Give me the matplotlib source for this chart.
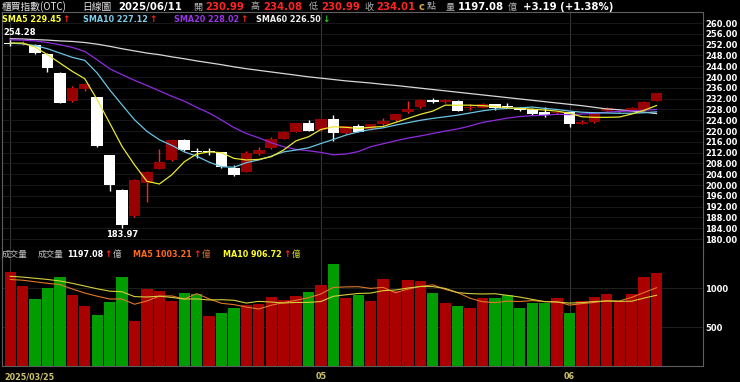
import numpy as np
import matplotlib
matplotlib.use('Agg')
import matplotlib.pyplot as plt

# --- data (OTC index, daily, 2025/03/25 - 2025/06/11) ---
opens = [252.3, 252.3, 251.8, 248.6, 241.5, 231.1, 235.6, 232.5, 211.0, 198.3,
         188.4, 200.8, 206.1, 209.2, 216.6, 212.6, 212.6, 212.1, 206.2, 205.0,
         211.5, 213.6, 217.2, 219.8, 222.9, 220.4, 224.4, 219.2, 221.9, 220.7,
         222.6, 224.1, 227.0, 228.8, 231.6, 230.7, 231.2, 228.4, 228.7, 229.9,
         229.3, 228.7, 228.2, 227.2, 226.8, 227.0, 222.8, 223.2, 227.5, 226.9,
         227.5, 227.8, 230.99]
highs = [254.28, 253.3, 252.1, 248.8, 241.7, 236.8, 237.8, 232.7, 211.2, 198.5,
         202.3, 205.3, 213.5, 216.8, 217.2, 213.6, 213.6, 212.3, 207.6, 212.8,
         214.0, 217.9, 219.9, 223.1, 224.0, 224.6, 226.0, 221.9, 222.7, 222.8,
         224.8, 226.5, 231.0, 231.7, 232.2, 231.9, 231.4, 230.0, 230.4, 230.1,
         230.3, 228.9, 228.4, 229.1, 227.6, 227.2, 224.2, 226.8, 229.0, 227.8,
         229.1, 231.1, 234.08]
lows = [251.4, 252.0, 248.6, 242.0, 230.3, 230.9, 234.8, 214.2, 197.7, 183.97,
        188.2, 193.8, 205.9, 209.0, 212.8, 209.9, 211.3, 206.4, 203.5, 204.8,
        211.3, 213.4, 217.0, 219.6, 220.0, 220.2, 216.5, 218.8, 219.6, 220.5,
        222.4, 223.9, 226.8, 228.6, 230.5, 230.5, 227.3, 227.8, 228.5, 227.8,
        228.4, 227.6, 226.0, 225.4, 226.5, 221.4, 222.6, 223.0, 227.3, 226.7,
        227.3, 227.6, 230.99]
closes = [252.3, 252.8, 248.9, 243.3, 230.5, 236.0, 237.5, 214.6, 200.1, 185.1,
          202.0, 204.8, 208.5, 216.6, 213.0, 212.4, 212.6, 206.6, 203.7, 211.8,
          213.0, 217.0, 219.7, 222.9, 220.2, 224.4, 219.2, 221.7, 219.8, 222.6,
          223.9, 226.3, 228.2, 231.5, 230.7, 231.4, 227.5, 229.0, 230.2, 228.7,
          228.9, 227.8, 226.4, 226.0, 227.2, 222.5, 223.4, 226.6, 228.4, 227.5,
          228.5, 230.9, 234.01]

sma5 = [252.6, 252.6, 251.1, 248.3, 245.2, 242.1, 239.4, 231.6, 223.0, 214.3,
        207.5, 201.4, 200.4, 203.8, 208.6, 211.5, 212.3, 212.0, 209.9, 209.3,
        209.5, 210.5, 213.0, 216.4, 217.9, 220.6, 221.6, 221.4, 221.0, 221.4,
        221.7, 223.2, 224.7, 226.2, 227.4, 229.6, 229.6, 229.6, 229.4, 229.1,
        228.6, 228.4, 228.1, 227.8, 227.4, 226.6, 225.3, 225.1, 225.1, 225.2,
        226.3, 227.7, 229.45]
sma10 = [252.6, 252.3, 251.7, 250.5, 248.9, 247.3, 246.2, 241.5, 235.3, 229.7,
         224.2, 219.9, 216.8, 214.7, 212.3, 210.7, 208.5, 206.8, 206.6, 208.3,
         209.3, 210.7, 212.3, 213.0, 213.8, 215.4, 216.9, 218.5, 219.7, 220.6,
         221.2, 222.2, 223.1, 224.0, 224.7, 225.3, 225.9, 226.7, 227.5, 228.1,
         228.4, 228.6, 228.9, 228.4, 228.0, 227.4, 227.0, 226.8, 226.7, 226.6,
         226.6, 226.8, 227.12]
sma20 = [253.8, 253.7, 253.4, 252.8, 252.0, 251.0, 249.5, 246.4, 243.1, 240.9,
         238.8, 236.9, 234.9, 232.9, 231.1, 228.8, 226.7, 224.1, 221.3, 219.1,
         217.5, 215.7, 214.2, 213.2, 212.7, 212.1, 211.2, 211.5, 212.4, 214.2,
         215.3, 216.4, 217.4, 218.2, 219.1, 220.0, 220.8, 221.9, 223.2, 224.0,
         224.8, 225.4, 225.7, 225.9, 226.2, 226.1, 226.3, 226.6, 227.0, 227.3,
         227.5, 227.7, 228.02]
sma60 = [254.2, 254.1, 253.9, 253.7, 253.4, 253.2, 252.8, 252.2, 251.4, 250.5,
         249.7, 248.9, 248.3, 247.5, 246.8, 246.0, 245.3, 244.6, 243.8, 243.1,
         242.5, 241.9, 241.3, 240.7, 240.1, 239.6, 239.1, 238.6, 238.2, 237.8,
         237.3, 236.9, 236.4, 235.9, 235.4, 234.9, 234.4, 233.9, 233.4, 232.9,
         232.4, 231.9, 231.4, 230.9, 230.4, 229.9, 229.4, 228.8, 228.2, 227.9,
         227.4, 227.0, 226.5]

volumes = [1201, 1030, 859, 996, 1141, 910, 773, 654, 816, 1141,
           577, 983, 962, 833, 936, 927, 645, 679, 748, 782,
           799, 889, 846, 897, 944, 1043, 1308, 876, 914, 833,
           1111, 968, 1103, 1090, 932, 812, 769, 744, 868, 868,
           910, 744, 803, 803, 872, 684, 837, 880, 923, 837,
           923, 1145, 1197.08]
vol_ma5 = [1110, 1100, 1080, 1060, 1045, 987, 936, 895, 859, 859,
           792, 834, 896, 899, 858, 928, 861, 804, 787, 756,
           731, 779, 813, 843, 875, 924, 1008, 1014, 1017, 995,
           1008, 940, 986, 1021, 1041, 981, 941, 869, 825, 812,
           832, 827, 839, 826, 826, 781, 800, 815, 839, 832,
           880, 942, 1003.21]
vol_ma10 = [1150, 1140, 1125, 1110, 1090, 1060, 1025, 990, 960, 952,
            890, 885, 895, 879, 859, 860, 847, 850, 843, 807,
            829, 820, 808, 815, 816, 827, 894, 913, 930, 935,
            966, 974, 1000, 1019, 1018, 995, 941, 928, 923, 927,
            906, 884, 854, 825, 819, 807, 813, 827, 832, 829,
            831, 871, 906.72]

date_ticks = [0, 25, 45]
date_labels = ['2025/03/25', '05', '06']

W, H = 740, 382
CJK = ['Noto Sans CJK TC', 'DejaVu Sans']

o = np.array(opens); c = np.array(closes)
h = np.array(highs); l = np.array(lows)
x = np.arange(len(o))
rise = c > o
vol_up = c >= o

fig = plt.figure(figsize=(W / 100, H / 100), dpi=100, facecolor='black')
renderer = fig.canvas.get_renderer()


def box(left, top, right, bottom):
    return [left / W, 1 - bottom / H, (right - left) / W, (bottom - top) / H]


ax = fig.add_axes(box(2, 12.3, 703, 247.7))
vax = fig.add_axes(box(2, 247.7, 703, 366), sharex=ax)

for a in (ax, vax):
    a.set_facecolor('black')
    for s in a.spines.values():
        s.set_color('#5e5e5e')
        s.set_linewidth(0.8)
    a.set_axisbelow(True)
    a.set_xticks(date_ticks)
    a.grid(axis='x', color='#363636', lw=0.8)
    a.tick_params(axis='both', length=0)
    a.yaxis.tick_right()
ax.set_xlim(-0.66, 55.74)

# price panel
ax.set_ylim(176.8, 264.0)
yt = np.arange(180, 261, 4)
ax.set_yticks(yt, [f'{v:.2f}' for v in yt], fontsize=6, fontweight='bold', color='white')
ax.tick_params(axis='y', pad=1.5)
ax.tick_params(axis='x', labelbottom=False)
ax.grid(axis='y', color='#1c1c1c', lw=0.6)

wick_col = np.where(rise, '#ff2020', 'white')
body_col = np.where(rise, '#990000', 'white')
ax.vlines(x, l, h, colors=wick_col, lw=1.0, zorder=2)
body_h = np.abs(c - o)
min_h = 0.35
body_lo = np.minimum(o, c) - np.clip(min_h - body_h, 0, None) / 2
ax.bar(x, np.maximum(body_h, min_h), bottom=body_lo, width=0.92,
       color=body_col, edgecolor='none', zorder=3)

ax.plot(x, sma60, color='#d8d8d8', lw=0.9, zorder=4)
ax.plot(x, sma20, color='#8f2be0', lw=0.9, zorder=4)
ax.plot(x, sma10, color='#6cc4e4', lw=0.9, zorder=4)
ax.plot(x, sma5, color='#e8e830', lw=0.9, zorder=4)

imax = int(np.argmax(h)); imin = int(np.argmin(l))
ax.annotate(f'{h[imax]:.2f}', (imax, h[imax]), xytext=(7, 4), textcoords='offset points',
            ha='center', va='center', color='white', fontsize=6, fontweight='bold')
ax.annotate(f'{l[imin]:.2f}', (imin, l[imin]), xytext=(0, -1.5), textcoords='offset points',
            ha='center', va='top', color='white', fontsize=6, fontweight='bold')

# volume panel
vax.set_ylim(0, 1517)
vax.set_yticks([500, 1000], ['500', '1000'], fontsize=6, fontweight='bold', color='white')
vax.tick_params(axis='y', pad=1.5)
vax.tick_params(axis='x', labelbottom=False)
vax.grid(axis='y', color='#262626', lw=0.6)
vax.bar(x, volumes, width=0.9, color=np.where(vol_up, '#aa0000', '#009c00'),
        edgecolor='none', zorder=2)
vax.plot(x, vol_ma5, color='#e07828', lw=0.8, zorder=3)
vax.plot(x, vol_ma10, color='#d6cf3c', lw=0.8, zorder=3)
vax.spines['top'].set_visible(False)

for t, lab in zip(date_ticks, date_labels):
    first = t == date_ticks[0]
    vax.text(t - 0.5 if first else t, -0.089, lab, transform=vax.get_xaxis_transform(),
             ha='left' if first else 'center', va='center', color='#cfc36a',
             fontsize=5.8, fontweight='bold')


def put(px, py, s, color, size=7.3, weight='bold', family=None):
    return fig.text(px / W, 1 - py / H, s, color=color, fontsize=size, fontweight=weight,
                    family=family, ha='left', va='center')


def after(t, gap=1.5):
    # pixel x just right of a text already placed
    return t.get_window_extent(renderer).x1 + gap


# header line 1
put(2, 7, '櫃買指數(OTC)', '#e6e6e6', 7, 'normal', CJK)
put(82, 7, '日線圖', '#e6e6e6', 7, 'normal', CJK)
put(118, 7, '2025/06/11', 'white')
red = '#ff2424'
for px, lab, val in [(193, '開', opens[-1]), (251, '高', highs[-1]),
                     (309, '低', lows[-1]), (364, '收', closes[-1])]:
    put(px, 7, lab, '#b4b4b4', 6.5, 'normal', CJK)
    put(px + 12, 7, f'{val:.2f}', red)
put(419, 7, 'c', '#d8a040')
put(427, 7, '點', '#b4b4b4', 6.5, 'normal', CJK)
put(446, 7, '量', '#b4b4b4', 6.5, 'normal', CJK)
put(458, 7, f'{volumes[-1]:.2f}', 'white')
put(508, 7, '億', '#b4b4b4', 6.5, 'normal', CJK)
put(523, 7, '+3.19 (+1.38%)', 'white')

# header line 2: moving averages
up_c, dn_c = '#ff2020', '#20d020'
for px, name, vals, col, arrow in [
        (2, 'SMA5', sma5, '#ffff33', '↑'),
        (83, 'SMA10', sma10, '#7ecbea', '↑'),
        (174, 'SMA20', sma20, '#9a35e8', '↑'),
        (256, 'SMA60', sma60, '#f0f0f0', '↓')]:
    t = put(px, 19, f'{name} {vals[-1]:.2f}', col, 5.8)
    put(after(t), 19, arrow, up_c if arrow == '↑' else dn_c, 6.5)

# volume header
vy = 254.5
put(2, vy, '成交量', '#c0c0c0', 6.2, 'normal', CJK)
put(38, vy, '成交量', '#c0c0c0', 6.2, 'normal', CJK)
for px, s, col, unit_col in [(67, f'{volumes[-1]:.2f}', 'white', '#c0c0c0'),
                             (133, f'MA5 {vol_ma5[-1]:.2f}', '#ff6a1a', '#d07030'),
                             (223, f'MA10 {vol_ma10[-1]:.2f}', '#ffff20', '#d0d030')]:
    t = put(px, vy, s, col, 5.8)
    a = put(after(t), vy, '↑', up_c, 6.5)
    put(after(a, 0.5), vy, '億', unit_col, 6.2, 'normal', CJK)

fig.savefig('out.png', dpi=100, facecolor='black')
